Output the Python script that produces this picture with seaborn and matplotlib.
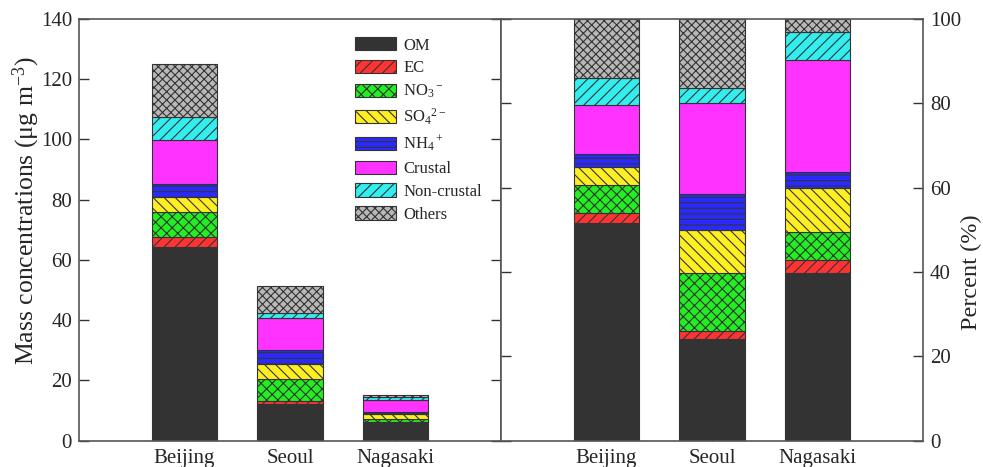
import matplotlib
matplotlib.use("Agg")
import matplotlib.pyplot as plt
import seaborn as sns
from matplotlib.patches import Patch

# Sampling sites and aerosol components (bottom to top of each stack)
sites = ["Beijing", "Seoul", "Nagasaki"]
components = ["OM", "EC", "NO3", "SO4", "NH4", "Crustal", "Non-crustal", "Others"]
legend_labels = ["OM", "EC", r"NO$_3{}^-$", r"SO$_4{}^{2-}$", r"NH$_4{}^+$",
                 "Crustal", "Non-crustal", "Others"]

# Mass concentrations (ug m-3) per site
mass_om = [64.3, 12.0, 5.8]
mass_ec = [3.4, 1.1, 0.5]
mass_no3 = [8.2, 7.2, 1.0]
mass_so4 = [5.0, 5.0, 1.6]
mass_nh4 = [4.2, 4.6, 0.6]
mass_crustal = [14.7, 10.9, 4.0]
mass_noncrustal = [7.7, 1.6, 0.9]
mass_others = [17.5, 8.9, 0.6]

# Percent contribution (%) per site
pct_om = [51.5, 24.0, 39.8]
pct_ec = [2.5, 1.9, 3.1]
pct_no3 = [6.7, 13.9, 6.6]
pct_so4 = [4.1, 10.2, 10.3]
pct_nh4 = [3.1, 8.6, 3.9]
pct_crustal = [11.8, 21.4, 26.5]
pct_noncrustal = [6.3, 3.7, 6.8]
pct_others = [14.0, 16.3, 3.0]

mass_series = [mass_om, mass_ec, mass_no3, mass_so4, mass_nh4,
               mass_crustal, mass_noncrustal, mass_others]
pct_series = [pct_om, pct_ec, pct_no3, pct_so4, pct_nh4,
              pct_crustal, pct_noncrustal, pct_others]

# Fill colours and hatch patterns for each component
colors = ["#333333", "#ff3333", "#22ee22", "#ffee22",
          "#2a2aff", "#ff33ff", "#33eeee", "#b8b8b8"]
hatches = ["", "///", "xxx", "\\\\\\", "---", "", "///", "xxxx"]

sns.set_style("ticks")
plt.rcParams["font.family"] = ["Liberation Serif", "DejaVu Serif"]
plt.rcParams["mathtext.fontset"] = "custom"
plt.rcParams["mathtext.rm"] = "Liberation Serif"
plt.rcParams["mathtext.it"] = "Liberation Serif:italic"
plt.rcParams["hatch.linewidth"] = 0.8
plt.rcParams["hatch.color"] = "#222222"

edge = "#333333"
spine_col = "#555555"

fig = plt.figure(figsize=(9.83, 4.67), dpi=100)
W, H = 983.0, 467.0
bottom_px, top_px = 440.5, 19.0
ax1 = fig.add_axes([79 / W, 1 - bottom_px / H, 422 / W, (bottom_px - top_px) / H])
ax2 = fig.add_axes([501 / W, 1 - bottom_px / H, 422 / W, (bottom_px - top_px) / H])


def stacked(ax, series):
    base = [0.0] * len(sites)
    for vals, col, hat in zip(series, colors, hatches):
        sns.barplot(x=sites, y=vals, ax=ax, color=col, saturation=1,
                    width=0.62, errorbar=None, bottom=base, hatch=hat,
                    edgecolor=edge, linewidth=0.8)
        base = [b + v for b, v in zip(base, vals)]


stacked(ax1, mass_series)
stacked(ax2, pct_series)

for ax in (ax1, ax2):
    ax.set_xlim(-1, 3)
    ax.set_xlabel("")
    for s in ax.spines.values():
        s.set_color(spine_col)
        s.set_linewidth(1.2)
        s.set_visible(True)
    ax.tick_params(axis="x", direction="in", length=4, width=1,
                   color="#333333", labelsize=15, pad=6, top=False)
    ax.tick_params(axis="y", direction="in", length=7, width=1,
                   color="#333333", labelsize=15, pad=5, left=True, right=True)

ax1.set_ylim(0, 140)
ax1.set_yticks(range(0, 141, 20))
ax1.tick_params(axis="y", labelleft=True, labelright=False)
ax1.set_ylabel("Mass concentrations (μg m$^{-3}$)", fontsize=18.5, labelpad=-1)
ax1.yaxis.label.set_y(0.545)

ax2.set_ylim(0, 100)
ax2.set_yticks(range(0, 101, 20))
ax2.yaxis.set_label_position("right")
ax2.tick_params(axis="y", labelleft=False, labelright=True)
ax2.set_ylabel("Percent (%)", fontsize=17.5, labelpad=-0.5, rotation=90)
ax2.yaxis.label.set_y(0.4)

handles = [Patch(facecolor=c, hatch=h, edgecolor=edge, linewidth=0.8)
           for c, h in zip(colors, hatches)]
ax1.legend(handles, legend_labels, loc="upper left",
           bbox_to_anchor=(0.654, 0.957), frameon=False, fontsize=12,
           borderpad=0, borderaxespad=0, handlelength=2.45, handleheight=0.85,
           handletextpad=0.45, labelspacing=0.39)

fig.savefig("out.png", dpi=100)
